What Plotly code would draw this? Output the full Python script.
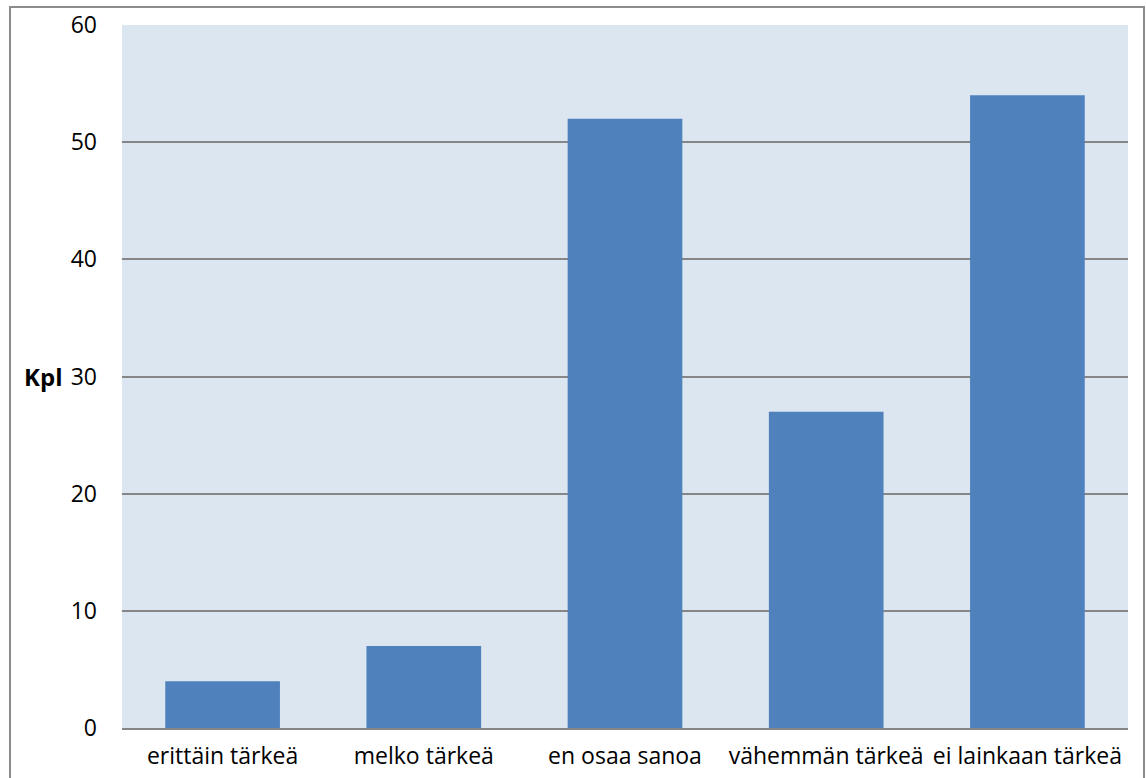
import plotly.graph_objects as go

# Survey responses: how important the matter is (count of answers)
categories = ["erittäin tärkeä", "melko tärkeä", "en osaa sanoa", "vähemmän tärkeä", "ei lainkaan tärkeä"]
counts = [4, 7, 52, 27, 54]
y_ticks = [0, 10, 20, 30, 40, 50, 60]
y_title = "Kpl"

FONT = "Open Sans, Noto Sans, Liberation Sans, sans-serif"
W, H = 1146, 778
ML, MR, MT, MB = 122, 18, 25, 50
plot_w = W - ML - MR
plot_h = H - MT - MB

fig = go.Figure(
    go.Bar(
        x=categories,
        y=counts,
        marker=dict(color="#4f81bd", line=dict(width=0)),
        width=0.57,
    )
)

fig.update_layout(
    width=W,
    height=H,
    margin=dict(l=ML, r=MR, t=MT, b=MB, autoexpand=False),
    paper_bgcolor="white",
    plot_bgcolor="#dce6f1",
    showlegend=False,
    font=dict(family=FONT, size=23, color="#000000"),
    bargap=0.43,
)

fig.update_xaxes(
    automargin=False,
    showgrid=False,
    showline=True,
    linecolor="#868686",
    linewidth=2,
    ticks="",
    tickfont=dict(size=23),
    ticklabelstandoff=6,
)

fig.update_yaxes(
    automargin=False,
    range=[0, 60],
    tickvals=y_ticks,
    showgrid=True,
    gridcolor="#868686",
    gridwidth=1.5,
    zeroline=False,
    showline=False,
    ticks="",
    tickfont=dict(size=23),
    ticklabelstandoff=24,
)

# Horizontal axis title placed at the left of the value axis
fig.add_annotation(
    text=f"<b>{y_title}</b>",
    xref="paper", yref="y",
    x=(22 - ML) / plot_w, y=30,
    xanchor="left", yanchor="middle",
    showarrow=False,
    font=dict(size=24, family=FONT),
)

# Chart frame around the whole figure
fig.add_shape(
    type="rect",
    xref="paper", yref="paper",
    x0=(10 - ML) / plot_w, x1=(1144 - ML) / plot_w,
    y0=-(H + 20 - MT - plot_h) / plot_h, y1=1 + (MT - 7) / plot_h,
    line=dict(color="#8c8c8c", width=2),
    fillcolor="rgba(0,0,0,0)",
    layer="below",
)

fig.write_html("out.html")
